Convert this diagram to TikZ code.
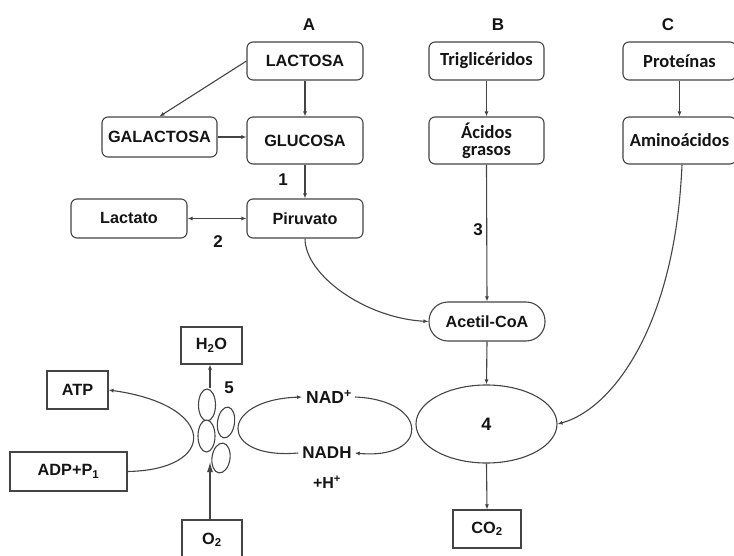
\documentclass[tikz,border=0pt]{standalone}
\usepackage{fontspec}
\setmainfont{Liberation Sans}
\newfontfamily\carlfont{Carlito}
\usetikzlibrary{arrows.meta,shapes.geometric}
\definecolor{edge}{HTML}{444444}
\definecolor{ink}{HTML}{141414}
\tikzset{
  box/.style={draw=edge, line width=1.1pt, rounded corners=6pt, inner sep=0pt, align=center, text=ink},
  sbox/.style={draw=edge, line width=1.1pt, inner sep=0pt, align=center, text=ink},
  conn/.style={draw=edge, line width=1.1pt, -{Latex[length=5pt,width=4pt]}},
  lbl/.style={text=ink, inner sep=0pt, font=\fontsize{17}{17}\selectfont\bfseries},
  capsA/.style={font=\fontsize{16.3}{17}\selectfont\bfseries},
  boldA/.style={font=\fontsize{16.2}{17}\selectfont\bfseries},
  carl/.style={font=\carlfont\fontsize{18.5}{20}\selectfont\bfseries},
  blob/.style={draw=edge, line width=1.1pt, fill=white, ellipse, inner sep=0pt}
}
\begin{document}
\begin{tikzpicture}[x=1pt,y=-1pt]
\useasboundingbox (0,0) rectangle (734,556);
\begin{scope}
\clip (0,0) rectangle (734,556);
% headers
\node[lbl] (hA) at (309,25) {A};
\node[lbl] (hB) at (498,25) {B};
\node[lbl] (hC) at (668,25) {C};
% column A
\node[box,capsA,minimum width=116pt,minimum height=38pt] (lac) at (305,61) {LACTOSA};
\node[box,capsA,minimum width=115pt,minimum height=40pt] (gal) at (159.5,137) {GALACTOSA};
\node[box,capsA,minimum width=116pt,minimum height=47pt] (glu) at (305,140.5) {GLUCOSA};
\node[box,boldA,minimum width=116pt,minimum height=39pt] (pir) at (305,218.5) {Piruvato};
\node[box,boldA,minimum width=116pt,minimum height=39pt] (lact) at (129,218.5) {Lactato};
% column B
\node[box,carl,minimum width=115pt,minimum height=38pt] (tri) at (486.5,61) {Triglicéridos};
\node[box,carl,minimum width=115pt,minimum height=47pt] (acg) at (486.5,140.5) {Ácidos\\[-3pt]grasos};
% column C
\node[box,carl,minimum width=113pt,minimum height=38pt] (pro) at (679.5,61) {Proteínas};
\node[box,carl,minimum width=113pt,minimum height=47pt] (ami) at (679.5,140.5) {Aminoácidos};
% centre
\node[box,boldA,rounded corners=19pt,minimum width=116pt,minimum height=39pt] (acet) at (487,321.5) {Acetil-CoA};
\node[draw=edge,line width=1.1pt,ellipse,inner sep=0pt,minimum width=141pt,minimum height=78pt,text=ink,font=\fontsize{18}{18}\selectfont\bfseries] (four) at (486.5,424) {4};
\node[sbox,capsA,minimum width=68pt,minimum height=38pt] (co2) at (487,529) {CO\textsubscript{2}};
% lower left
\node[sbox,capsA,minimum width=61pt,minimum height=37pt] (h2o) at (211.5,345.5) {H\textsubscript{2}O};
\node[sbox,capsA,minimum width=61pt,minimum height=38pt] (atp) at (77.5,390) {ATP};
\node[sbox,capsA,minimum width=117pt,minimum height=39pt] (adp) at (68.5,471.5) {ADP+P\textsubscript{1}};
\node[sbox,capsA,minimum width=60pt,minimum height=40pt] (o2) at (212,540) {O\textsubscript{2}};
\node[text=ink,inner sep=0pt,font=\fontsize{17.5}{17}\selectfont\bfseries] (nad) at (329,397) {NAD\textsuperscript{+}};
\node[text=ink,inner sep=0pt,font=\fontsize{17}{17}\selectfont\bfseries] (nadh) at (327,453) {NADH};
\node[text=ink,inner sep=0pt,font=\fontsize{16}{17}\selectfont\bfseries] (hplus) at (327,482) {+H\textsuperscript{+}};
% complex ellipses
\node[blob,minimum width=17pt,minimum height=32pt] (e1) at (207,405) {};
\node[blob,minimum width=17pt,minimum height=31pt,rotate=-8] (e2) at (226,422.5) {};
\node[blob,minimum width=17pt,minimum height=32pt] (e3) at (206.5,436) {};
\node[blob,minimum width=18pt,minimum height=30pt,rotate=-8] (e4) at (221,458) {};
% number labels
\node[lbl] (n1) at (283,180) {1};
\node[lbl] (n2) at (218,242) {2};
\node[lbl] (n3) at (478,230) {3};
\node[lbl] (n5) at (229,388) {5};
% connectors
\draw[conn] (lac.west) -- (gal.north);
\draw[conn] (lac.south) -- (glu.north);
\draw[conn] (gal.east) -- (gal.east -| glu.west);
\draw[conn] (glu.south) -- (pir.north);
\draw[conn,{Latex[length=5pt,width=4pt]}-{Latex[length=5pt,width=4pt]}] (lact.east) -- (pir.west);
\draw[conn] (tri.south) -- (acg.north);
\draw[conn] (pro.south) -- (ami.north);
\draw[conn] (acg.south) -- (acet.north);
\draw[conn] (pir.south) .. controls (305,275) and (365,318) .. (acet.west);
\draw[conn] ([xshift=2.5pt]ami.south) .. controls (675,330) and (610,410) .. (four.east);
\draw[conn] (acet.south) -- (four.north);
\draw[conn] (four.south) -- (co2.north);
\draw[conn] ([xshift=3pt]nad.east) .. controls (430,400) and (430,460) .. ([xshift=3pt]nadh.east);
\draw[conn] ([xshift=-4pt]nadh.west) .. controls (218,460) and (218,400) .. ([xshift=-4pt]nad.west);
\draw[conn] (adp.east) .. controls (218,470) and (218,405) .. (atp.east);
\coordinate (otip) at (210,462);
\draw[draw=edge,line width=1.1pt,-{Latex[length=10pt,width=6pt]}] (o2.north -| otip) -- (otip);
\draw[conn] (e1.north -| otip) -- (h2o.south -| otip);
\end{scope}
\end{tikzpicture}
\end{document}
